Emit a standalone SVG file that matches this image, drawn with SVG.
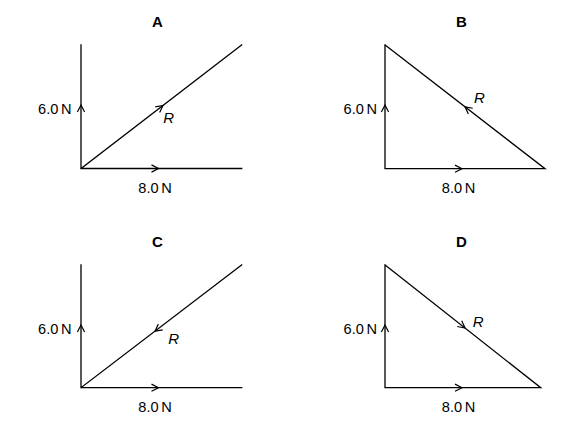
<svg xmlns="http://www.w3.org/2000/svg" xmlns:xlink="http://www.w3.org/1999/xlink" width="585" height="436" viewBox="0 0 585 436">
<style>
.ln{stroke:#000;stroke-width:1.3;fill:none;stroke-linecap:square}
.ch{stroke:#000;stroke-width:1.2;fill:none;stroke-linejoin:miter}
.t{font-family:"Liberation Sans",Arial,sans-serif;font-size:14.6px;fill:#000}
.ti{font-family:"Liberation Sans",Arial,sans-serif;font-size:15px;font-weight:bold;fill:#000;text-anchor:middle}
.r{font-family:"Liberation Sans",Arial,sans-serif;font-size:15px;font-style:italic;fill:#000}
</style>
<defs>
<path id="chev" d="M-7,-3.6 L0,0 L-7,3.6"/>
</defs>
<rect width="585" height="436" fill="#fff"/>
<g id="panel-A">
<text class="ti" x="157.5" y="26.7">A</text>
<g id="lines-A">
<path class="ln" d="M81,45 V168.5 H241.7 M81,168.5 L241.7,45"/>
<use xlink:href="#chev" class="ch" transform="translate(81,105) rotate(-90)"/>
<use xlink:href="#chev" class="ch" transform="translate(158.5,168.5)"/>
<use xlink:href="#chev" class="ch" transform="translate(163,105.5) rotate(-37.5)"/>
</g>
<text class="t" x="71.5" y="113.5" text-anchor="end" word-spacing="-1.5">6.0 N</text>
<text class="t" x="155" y="192.7" text-anchor="middle" word-spacing="-1.5">8.0 N</text>
<text class="r" x="163.3" y="123.3">R</text>
</g>
<g id="panel-B">
<text class="ti" x="461.5" y="26.7">B</text>
<g id="lines-B">
<path class="ln" d="M385,45 V168.7 H545 L385,45"/>
<use xlink:href="#chev" class="ch" transform="translate(385,105) rotate(-90)"/>
<use xlink:href="#chev" class="ch" transform="translate(462,168.7)"/>
<use xlink:href="#chev" class="ch" transform="translate(465,106.8) rotate(-142.3)"/>
</g>
<text class="t" x="377" y="114" text-anchor="end" word-spacing="-1.5">6.0 N</text>
<text class="t" x="458.5" y="192.5" text-anchor="middle" word-spacing="-1.5">8.0 N</text>
<text class="r" x="474" y="103">R</text>
</g>
<g id="panel-C">
<text class="ti" x="157.5" y="247">C</text>
<g id="lines-C">
<path class="ln" d="M81,265 V387.7 H241.7 M81,387.7 L241.7,265"/>
<use xlink:href="#chev" class="ch" transform="translate(81,325) rotate(-90)"/>
<use xlink:href="#chev" class="ch" transform="translate(158.5,387.7)"/>
<use xlink:href="#chev" class="ch" transform="translate(155,331.2) rotate(142.6)"/>
</g>
<text class="t" x="71.5" y="333.5" text-anchor="end" word-spacing="-1.5">6.0 N</text>
<text class="t" x="155" y="412" text-anchor="middle" word-spacing="-1.5">8.0 N</text>
<text class="r" x="168.3" y="344.3">R</text>
</g>
<g id="panel-D">
<text class="ti" x="461.5" y="247.3">D</text>
<g id="lines-D">
<path class="ln" d="M385,265 V387.7 H540.7 L385,265"/>
<use xlink:href="#chev" class="ch" transform="translate(385,325) rotate(-90)"/>
<use xlink:href="#chev" class="ch" transform="translate(462,387.7)"/>
<use xlink:href="#chev" class="ch" transform="translate(465,328) rotate(38.2)"/>
</g>
<text class="t" x="377" y="334" text-anchor="end" word-spacing="-1.5">6.0 N</text>
<text class="t" x="458.5" y="412" text-anchor="middle" word-spacing="-1.5">8.0 N</text>
<text class="r" x="472.7" y="326.7">R</text>
</g>
</svg>
